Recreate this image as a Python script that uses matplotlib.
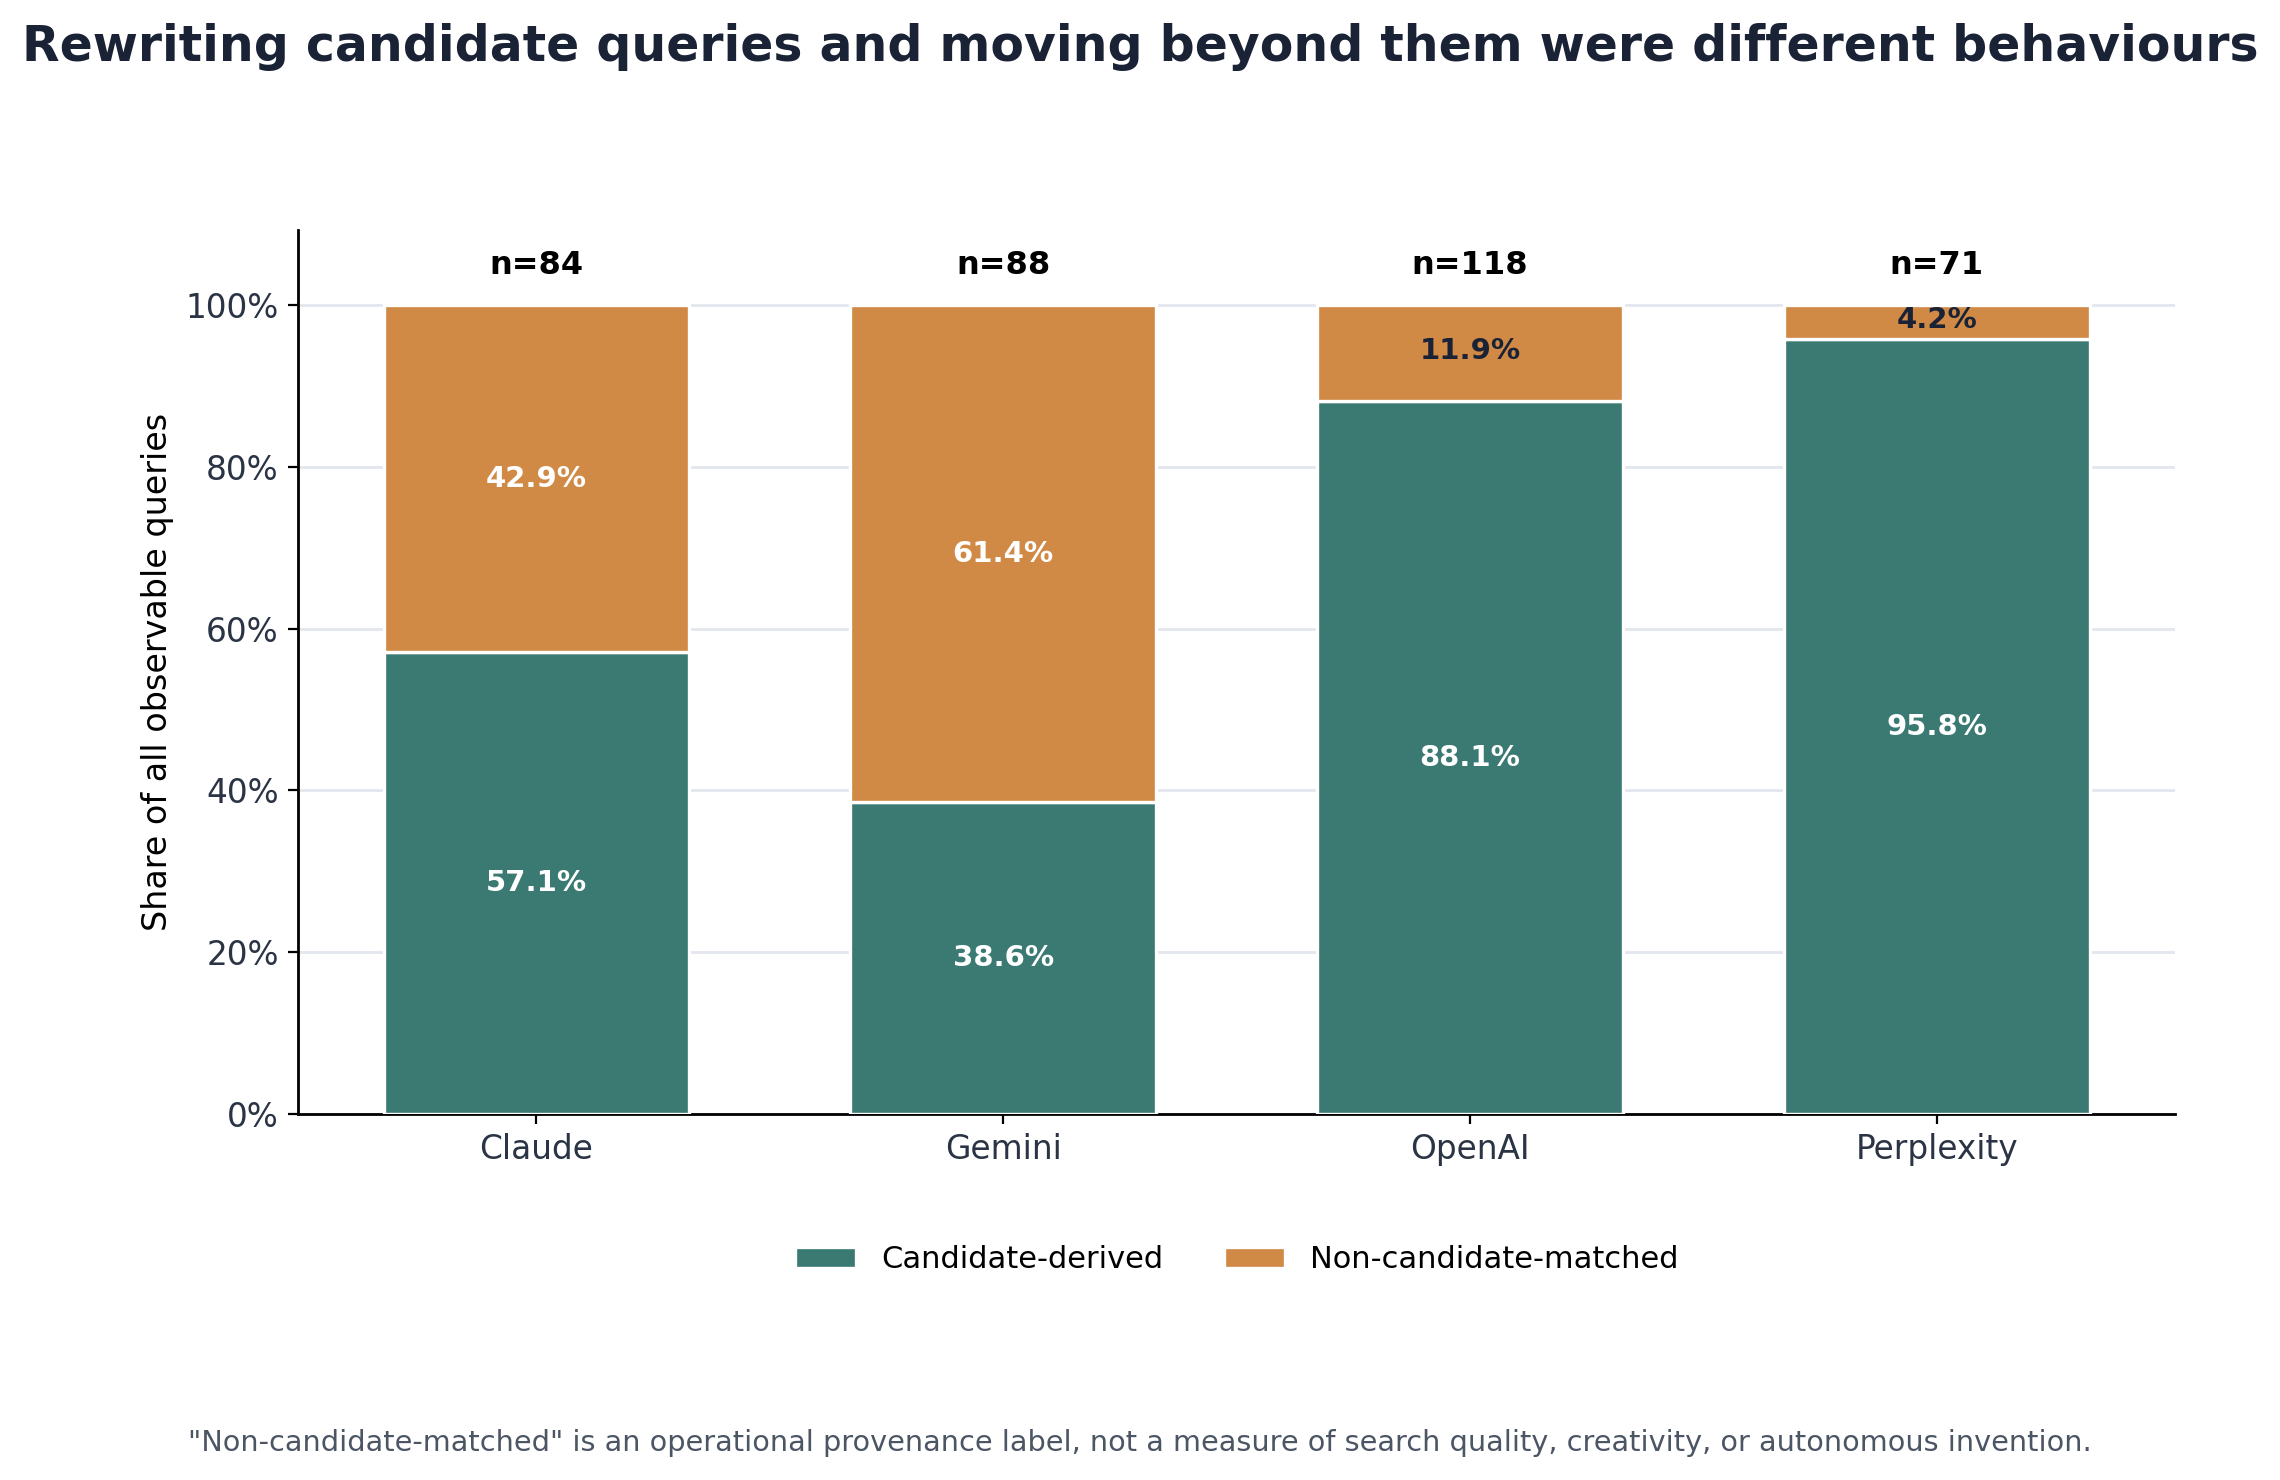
import matplotlib
matplotlib.use("Agg")
import matplotlib.pyplot as plt
import numpy as np
from matplotlib.ticker import PercentFormatter

providers = ["Claude", "Gemini", "OpenAI", "Perplexity"]
candidate_derived = [57.1, 38.6, 88.1, 95.8]
non_candidate = [42.9, 61.4, 11.9, 4.2]
n_counts = [84, 88, 118, 71]
series_names = ["Candidate-derived", "Non-candidate-matched"]

TEAL = "#3b7a73"
ORANGE = "#d18a46"
DARK = "#1a2236"
TICK = "#2b3445"

plt.rcParams["font.family"] = ["DejaVu Sans"]

fig = plt.figure(figsize=(11.4, 7.4), dpi=200)
ax = fig.add_axes([0.1308, 0.2473, 0.954 - 0.1308, 0.8446 - 0.2473])

x = np.arange(len(providers))
cd = np.array(candidate_derived) / 100
nc = np.array(non_candidate) / 100

b1 = ax.bar(x, cd, width=0.655, color=TEAL, edgecolor="white", linewidth=1.2,
            label=series_names[0], zorder=3)
b2 = ax.bar(x, nc, width=0.655, bottom=cd, color=ORANGE, edgecolor="white",
            linewidth=1.2, label=series_names[1], zorder=3)

for i in range(len(providers)):
    ax.text(x[i], cd[i] / 2, f"{candidate_derived[i]:.1f}%", ha="center", va="center",
            color="white", fontsize=10.5, fontweight="bold", zorder=4)
    small = non_candidate[i] < 15
    ax.text(x[i], cd[i] + nc[i] / 2 + (0.003 if small else 0), f"{non_candidate[i]:.1f}%",
            ha="center", va="center",
            color=DARK if small else "white", fontsize=10.5, fontweight="bold", zorder=4)
    ax.text(x[i], 1.0 + 0.049, f"n={n_counts[i]}", ha="center", va="center",
            color="black", fontsize=11.5, fontweight="bold", zorder=4)

ax.set_ylim(0, 1.093)
ax.yaxis.set_major_formatter(PercentFormatter(1.0, decimals=0))
ax.set_yticks([0, 0.2, 0.4, 0.6, 0.8, 1.0])
ax.set_xticks(x)
ax.set_xticklabels(providers)
ax.tick_params(axis="both", labelsize=11.8, colors=TICK, labelcolor=TICK)
ax.tick_params(axis="both", color="black")
ax.set_ylabel("Share of all observable queries", fontsize=12, color="black")

ax.grid(axis="y", color="#e3e6ee", linewidth=1.0, zorder=0)
ax.set_axisbelow(True)
for s in ["top", "right"]:
    ax.spines[s].set_visible(False)
for s in ["left", "bottom"]:
    ax.spines[s].set_color("black")
    ax.spines[s].set_linewidth(1.0)

ax_center = 0.1308 + (0.954 - 0.1308) / 2
fig.legend(handles=[b1, b2], labels=series_names, loc="center", bbox_to_anchor=(ax_center, 0.149),
           ncol=2, frameon=False, fontsize=11)

fig.text(0.5, 0.968, "Rewriting candidate queries and moving beyond them were different behaviours",
         ha="center", va="center", fontsize=17.6, fontweight="bold", color=DARK)
fig.text(0.5, 0.025,
         "\"Non-candidate-matched\" is an operational provenance label, not a measure of search quality, creativity, or autonomous invention.",
         ha="center", va="center", fontsize=10.35, color="#4b5563")

fig.savefig("out.png", dpi=200)
